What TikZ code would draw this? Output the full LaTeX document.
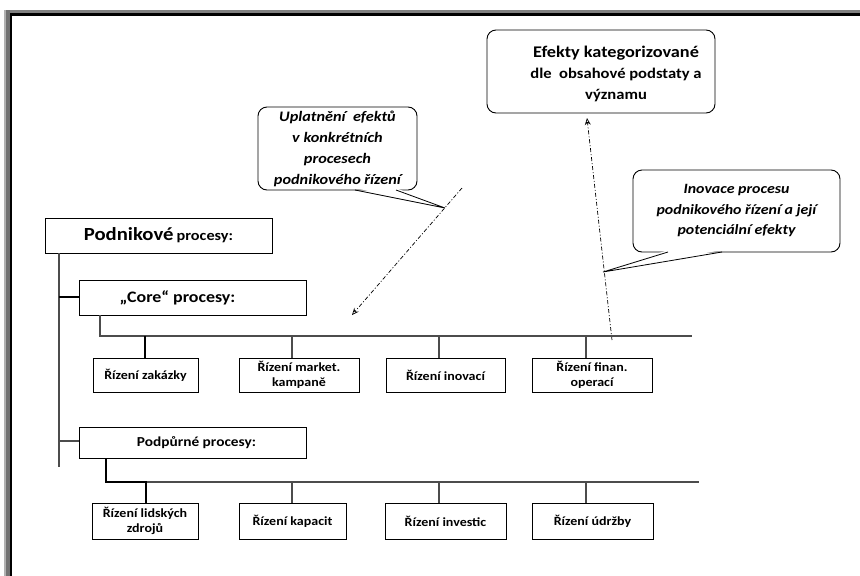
\documentclass[tikz,border=0pt]{standalone}
\usepackage{fontspec}
\setmainfont{Carlito}[FakeStretch=1.12]
\usetikzlibrary{arrows.meta,calc}
\begin{document}
\begin{tikzpicture}[x=1pt,y=-1pt,
  box/.style={draw=black,line width=0.9pt,fill=white,inner sep=0pt,align=center,font=\bfseries\fontsize{12.5}{15}\selectfont},
  rbox/.style={draw=black,line width=0.9pt,fill=white,rounded corners=9pt,inner sep=0pt,align=center},
  gline/.style={draw=black!70,line width=1.1pt},
  kline/.style={draw=black,line width=1.8pt},
  dd/.style={draw=black,line width=0.7pt,dash pattern=on 4pt off 2pt on 1pt off 2pt,-{Stealth[open,length=7pt,width=6pt]}},
  ptr/.style={draw=black,line width=0.8pt}]
\useasboundingbox (0,0) rectangle (860,576);
% frame (top and left edges)
\fill[black!50] (4,10) rectangle (860,13);
\fill[black] (10,13) rectangle (860,16);
\fill[black!30] (4,10) rectangle (6,576);
\fill[black!55] (6,10) rectangle (10,576);
\fill[black] (10,13) rectangle (12,576);

% effects box
\node[rbox,minimum width=228pt,minimum height=83pt] (eff) at (601,71.5) {};
\node[align=center,inner sep=0pt,font=\bfseries\fontsize{14.8}{21}\selectfont] (efft) at (616,74)
  {{\fontsize{16.3}{21}\selectfont Efekty kategorizované}\\
   dle\ \ obsahové podstaty a\\
   významu};

% callout 1
\node[rbox,minimum width=159pt,minimum height=83pt,font=\bfseries\itshape\fontsize{14.5}{21}\selectfont] (upl) at (337.5,148.5)
  {Uplatnění\ \ efektů\\ v konkrétních\\ procesech\\ podnikového řízení};
% callout 2
\node[rbox,minimum width=207pt,minimum height=82pt,font=\bfseries\itshape\fontsize{14.2}{20.5}\selectfont] (ino) at (736.5,211)
  {Inovace procesu\\ podnikového řízení a její\\ potenciální efekty};

% dash-dot arrows
\coordinate (a1s) at (462,188);
\coordinate (a1e) at (352,315);
\coordinate (a2s) at (612,340);
\coordinate (a2e) at (587,118);
\draw[dd] (a1s) -- (a1e);
\draw[dd] (a2s) -- (a2e);

% callout pointers
\coordinate (t1) at (445,208);
\coordinate (b1a) at (355,190);
\coordinate (b1b) at (396,190);
\fill[white] ($(b1a)+(0,-2)$) -- (t1) -- ($(b1b)+(0,-2)$) -- cycle;
\draw[ptr] (b1a) -- (t1) -- (b1b);
\coordinate (t2) at (603,272);
\coordinate (b2a) at (668,252);
\coordinate (b2b) at (722,252);
\fill[white] ($(b2a)+(0,-2)$) -- (t2) -- ($(b2b)+(0,-2)$) -- cycle;
\draw[ptr] (b2a) -- (t2) -- (b2b);

% main tree
\node[box,minimum width=227pt,minimum height=35pt] (pod) at (158.5,235.5)
  {{\fontsize{18.5}{20}\selectfont Podnikové} {\fontsize{14.5}{16}\selectfont procesy:}};
\node[box,minimum width=227pt,minimum height=35pt,font=\bfseries\fontsize{16}{18}\selectfont] (core) at (192.5,297.5) {\hspace*{-30pt}„Core“ procesy:};
\node[box,minimum width=227pt,minimum height=31pt,font=\bfseries\fontsize{13.7}{16}\selectfont] (sup) at (192.5,442.5) {\hspace*{8pt}Podpůrné procesy:};

\node[box,minimum width=105pt,minimum height=34pt] (c1) at (145.5,375) {Řízení zakázky};
\node[box,minimum width=120pt,minimum height=34pt] (c2) at (299,375) {Řízení market.\\ kampaně};
\node[box,minimum width=119pt,minimum height=34pt] (c3) at (445.5,375) {Řízení inovací};
\node[box,minimum width=120pt,minimum height=34pt] (c4) at (592,375) {Řízení finan.\\ operací};

\node[box,minimum width=106pt,minimum height=36pt] (s1) at (145,521) {Řízení lidských\\ zdrojů};
\node[box,minimum width=107pt,minimum height=36pt] (s2) at (292.5,521) {Řízení kapacit};
\node[box,minimum width=121pt,minimum height=36pt] (s3) at (445.5,521) {Řízení investic};
\node[box,minimum width=121pt,minimum height=36pt] (s4) at (592.5,521) {Řízení údržby};

% left spine
\coordinate (sp0) at (59,253);
\coordinate (sp1) at (59,297);
\coordinate (sp2) at (59,441);
\coordinate (sp3) at (59,467);
\draw[gline] (sp0) -- (sp3);
\draw[kline] (sp1) -- (sp1 -| core.west);
\draw[gline] (sp2) -- (sp2 -| sup.west);

% core bus
\coordinate (cb0) at (100,336);
\coordinate (cb1) at (145,336);
\coordinate (cb2) at (292,336);
\coordinate (cb3) at (439,336);
\coordinate (cb4) at (586,336);
\coordinate (cbe) at (692,336);
\draw[gline] (cb0 |- core.south) -- (cb0) -- (cbe);
\draw[kline] (cb1) -- (cb1 |- c1.north);
\draw[gline] (cb2) -- (cb2 |- c2.north);
\draw[gline] (cb3) -- (cb3 |- c3.north);
\draw[gline] (cb4) -- (cb4 |- c4.north);

% support bus
\coordinate (sb0) at (106,482);
\coordinate (sb1) at (146,482);
\coordinate (sb2) at (292,482);
\coordinate (sb3) at (439,482);
\coordinate (sb4) at (586,482);
\coordinate (sbe) at (699,482);
\draw[gline] (sb1) -- (sbe);
\draw[kline] (sb0 |- sup.south) -- (sb0) -- (sb1) -- (sb1 |- s1.north);
\draw[gline] (sb2) -- (sb2 |- s2.north);
\draw[gline] (sb3) -- (sb3 |- s3.north);
\draw[gline] (sb4) -- (sb4 |- s4.north);
\end{tikzpicture}
\end{document}
